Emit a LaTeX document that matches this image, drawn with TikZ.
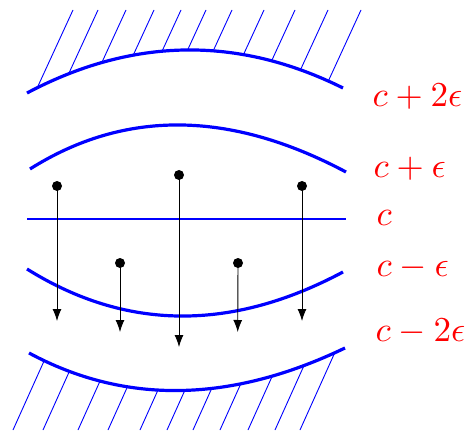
\documentclass[tikz,border=0pt]{standalone}
\usetikzlibrary{arrows.meta}
\begin{document}
\begin{tikzpicture}[x=1pt,y=-1pt,
  curve/.style={blue, line width=3.2pt},
  level/.style={blue, line width=1.8pt},
  hatch/.style={blue, line width=0.9pt},
  dotnode/.style={circle, fill=black, inner sep=0pt, minimum size=10pt},
  arr/.style={-{Latex[length=12pt,width=9pt]}, line width=0.9pt, black},
  lab/.style={text=red, anchor=base west, inner sep=0pt, scale=3.5}]
\useasboundingbox (0,0) rectangle (466,433);

% hatching above top curve
\begin{scope}
  \clip (0,93) -- (27,93) .. controls (132.3,37.3) and (237.7,35.7) .. (343,88) -- (466,88) -- (466,10) -- (0,10) -- cycle;
  \foreach \xt in {73,98,126,154,181,206,232,264,295,328,361}
    \draw[hatch] (\xt,10) -- ++(-46,100);
\end{scope}
% hatching below bottom curve
\begin{scope}
  \clip (0,353) -- (29,353) .. controls (125,404.7) and (230.3,403) .. (345,348) -- (466,348) -- (466,430) -- (0,430) -- cycle;
  \foreach \xb in {13,43,78,108,140,167,193,220,248,275,300}
    \draw[hatch] (\xb,430) -- ++(45,-100);
\end{scope}

% level curves
\draw[curve] (27,93) .. controls (132.3,37.3) and (237.7,35.7) .. (343,88);
\draw[curve] (30,169) .. controls (124.7,109.3) and (230,110.3) .. (346,172);
\draw[level] (27,219) -- (346,219);
\draw[curve] (27,269) .. controls (125.7,330.7) and (231,331.7) .. (343,272);
\draw[curve] (29,353) .. controls (125,404.7) and (230.3,403) .. (345,348);

% labels
\node[lab] (l2p) at (372,107) {$c+2\epsilon$};
\node[lab] (l1p) at (373,178) {$c+\epsilon$};
\node[lab] (l0)  at (376,225) {$c$};
\node[lab] (l1m) at (376,276) {$c-\epsilon$};
\node[lab] (l2m) at (375,341) {$c-2\epsilon$};

% dots and arrows
\node[dotnode] (d1) at (57,186) {};
\node[dotnode] (d2) at (179,175) {};
\node[dotnode] (d3) at (302,186) {};
\node[dotnode] (d4) at (120,263) {};
\node[dotnode] (d5) at (238,263) {};
\coordinate (t1) at (57,321);
\coordinate (t2) at (179,347);
\coordinate (t3) at (302,321);
\coordinate (t4) at (120,332);
\coordinate (t5) at (237.7,332);
\draw[arr] (d1.center) -- (t1);
\draw[arr] (d2.center) -- (t2);
\draw[arr] (d3.center) -- (t3);
\draw[arr] (d4.center) -- (t4);
\draw[arr] (d5.center) -- (t5);
\end{tikzpicture}
\end{document}
